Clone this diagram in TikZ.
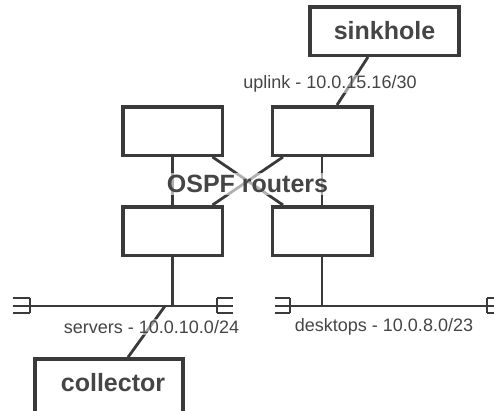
\documentclass[tikz,border=0pt]{standalone}
\usepackage{fontspec}
\setmainfont{Liberation Sans}
\usetikzlibrary{calc,shadows}
\definecolor{ink}{HTML}{3A3A3A}
\definecolor{txt}{HTML}{454545}
\tikzset{
  box/.style={draw=ink, line width=3.5pt, fill=white, rectangle, inner sep=0pt,
    drop shadow={shadow xshift=1.5pt, shadow yshift=-1.5pt, opacity=0.25}},
  router/.style={box, minimum width=99.5pt, minimum height=48.5pt},
  conn/.style={draw=ink, line width=2.8pt},
  busline/.style={draw=ink, line width=2pt},
  bigtxt/.style={text=txt, font=\fontsize{25}{28}\selectfont\bfseries},
  lbl/.style={text=txt, font=\fontsize{18}{20}\selectfont, inner sep=1pt},
}
\begin{document}
\begin{tikzpicture}[x=1pt, y=-1pt]
\useasboundingbox (0,0) rectangle (494,410);
\clip (0,0) rectangle (494,410);
% nodes
\node[router] (tl) at (172.5,131) {};
\node[router] (tr) at (322,131) {};
\node[router] (bl) at (172.5,231) {};
\node[router] (br) at (322,231) {};
\node[box, minimum width=149pt, minimum height=48.5pt, bigtxt] (sink) at (384.5,31) {sinkhole};
\node[box, minimum width=148pt, minimum height=70pt] (coll) at (109,394) {};
\node[bigtxt] (colltxt) at (113,383) {collector};
% bus coordinates
\coordinate (lbA) at (30,306);
\coordinate (lbB) at (217,306);
\coordinate (rbA) at (290,306);
\coordinate (rbB) at (487,306);
\coordinate (lbT) at (172.5,306);
\coordinate (rbT) at (322,306);
\coordinate (lbC) at (165,306);
% bus lines
\draw[busline] (lbA) -- (lbB);
\draw[busline] (rbA) -- (rbB);
% caps
\foreach \c/\d in {lbA/-17, lbB/16, rbA/-15, rbB/16}{
  \draw[busline] ($(\c)+(0,-8)$) -- ($(\c)+(0,7)$);
  \draw[busline] ($(\c)+(0,-8)$) -- ($(\c)+(\d,-8)$);
  \draw[busline] (\c) -- ($(\c)+(\d,0)$);
  \draw[busline] ($(\c)+(0,7)$) -- ($(\c)+(\d,7)$);
}
% connectors
\draw[conn] (tl.south) -- (bl.north);
\draw[conn] (tr.south) -- (br.north);
\draw[conn] ($(tl.south)+(40,0)$) -- ($(br.north)+(-39,0)$);
\draw[conn] ($(tr.south)+(-39,0)$) -- ($(bl.north)+(40,0)$);
\draw[conn] (bl.south) -- (lbT);
\draw[conn] (br.south) -- (rbT);
\draw[conn] ($(sink.south)+(-16.5,0)$) -- ($(tr.north)+(15,0)$);
\draw[conn] (lbC) -- ($(coll.north)+(19,0)$);
% labels
\node[bigtxt, fill=white, fill opacity=0.6, text opacity=1, inner xsep=3pt, inner ysep=2pt] (ospf) at (247.5,184) {OSPF routers};
\node[lbl, fill=white, fill opacity=0.5, text opacity=1] (uplink) at (330,84) {uplink - 10.0.15.16/30};
\node[lbl, fill=white, fill opacity=0.5, text opacity=1] (servers) at (151.5,327) {servers - 10.0.10.0/24};
\node[lbl] (desktops) at (384,327) {desktops - 10.0.8.0/23};
\end{tikzpicture}
\end{document}
